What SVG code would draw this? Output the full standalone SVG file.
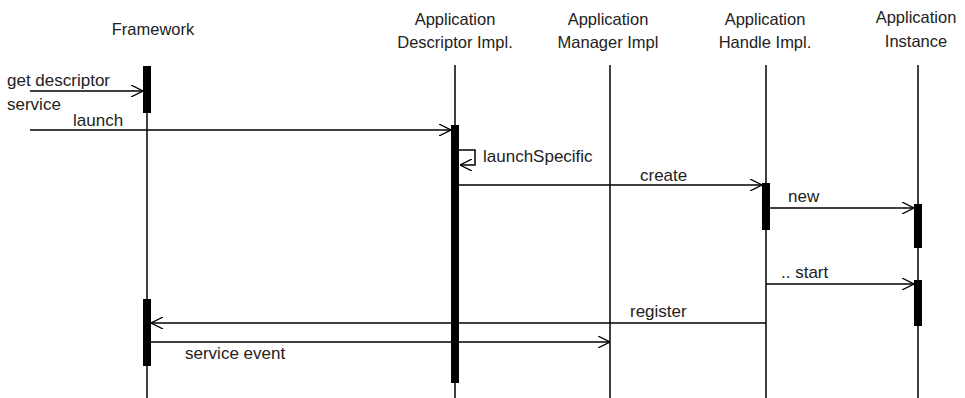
<svg xmlns="http://www.w3.org/2000/svg" width="965" height="398" viewBox="0 0 965 398">
<defs>
<marker id="open" viewBox="0 0 12 12" refX="12" refY="6" markerWidth="12" markerHeight="12" markerUnits="userSpaceOnUse" orient="auto">
<path d="M0,0 L12,6 L0,12" fill="none" stroke="#000" stroke-width="1.3"/>
</marker>
<style>
text{font-family:"Liberation Sans",Arial,sans-serif;font-size:17px;fill:#222}
.hd{text-anchor:middle;font-size:16.5px}
.life{stroke:#000;stroke-width:1.5;fill:none}
.act{fill:#000}
.msg{stroke:#000;stroke-width:1.5;fill:none;marker-end:url(#open)}
</style>
</defs>
<rect width="965" height="398" fill="#fff"/>
<g id="framework">
<text class="hd" x="153" y="35">Framework</text>
<line class="life" x1="147" y1="66" x2="147" y2="398"/>
<rect class="act" x="143" y="66" width="8" height="47"/>
<rect class="act" x="143" y="299" width="8" height="67"/>
</g>
<g id="descriptor">
<text class="hd" x="455" y="25">Application</text>
<text class="hd" x="455" y="48">Descriptor Impl.</text>
<line class="life" x1="455" y1="65" x2="455" y2="398"/>
<rect class="act" x="451" y="125" width="8" height="258"/>
</g>
<g id="manager">
<text class="hd" x="608" y="25">Application</text>
<text class="hd" x="608" y="48">Manager Impl</text>
<line class="life" x1="610" y1="65" x2="610" y2="398"/>
</g>
<g id="handle">
<text class="hd" x="765" y="25">Application</text>
<text class="hd" x="765" y="48">Handle Impl.</text>
<line class="life" x1="766" y1="65" x2="766" y2="398"/>
<rect class="act" x="762" y="183" width="8" height="47"/>
</g>
<g id="instance">
<text class="hd" x="916" y="23">Application</text>
<text class="hd" x="916" y="47">Instance</text>
<line class="life" x1="918" y1="65" x2="918" y2="398"/>
<rect class="act" x="914" y="204" width="8" height="44"/>
<rect class="act" x="914" y="280" width="8" height="46"/>
</g>
<g id="connectors">
<line class="msg" x1="30" y1="91" x2="143" y2="91"/>
<text x="7" y="86">get descriptor</text>
<text x="7" y="110">service</text>
<line class="msg" x1="30" y1="130" x2="451" y2="130"/>
<text x="73" y="126">launch</text>
<path class="msg" d="M459,150 H475 V165 H460"/>
<text x="483" y="162">launchSpecific</text>
<line class="msg" x1="459" y1="185" x2="762" y2="185"/>
<text x="640" y="181">create</text>
<line class="msg" x1="770" y1="208" x2="914" y2="208"/>
<text x="788" y="202">new</text>
<line class="msg" x1="766" y1="284" x2="914" y2="284"/>
<text x="781" y="278">.. start</text>
<line class="msg" x1="766" y1="323" x2="151" y2="323"/>
<text x="630" y="317">register</text>
<line class="msg" x1="151" y1="342" x2="610" y2="342"/>
<text x="185" y="359">service event</text>
</g>
</svg>
